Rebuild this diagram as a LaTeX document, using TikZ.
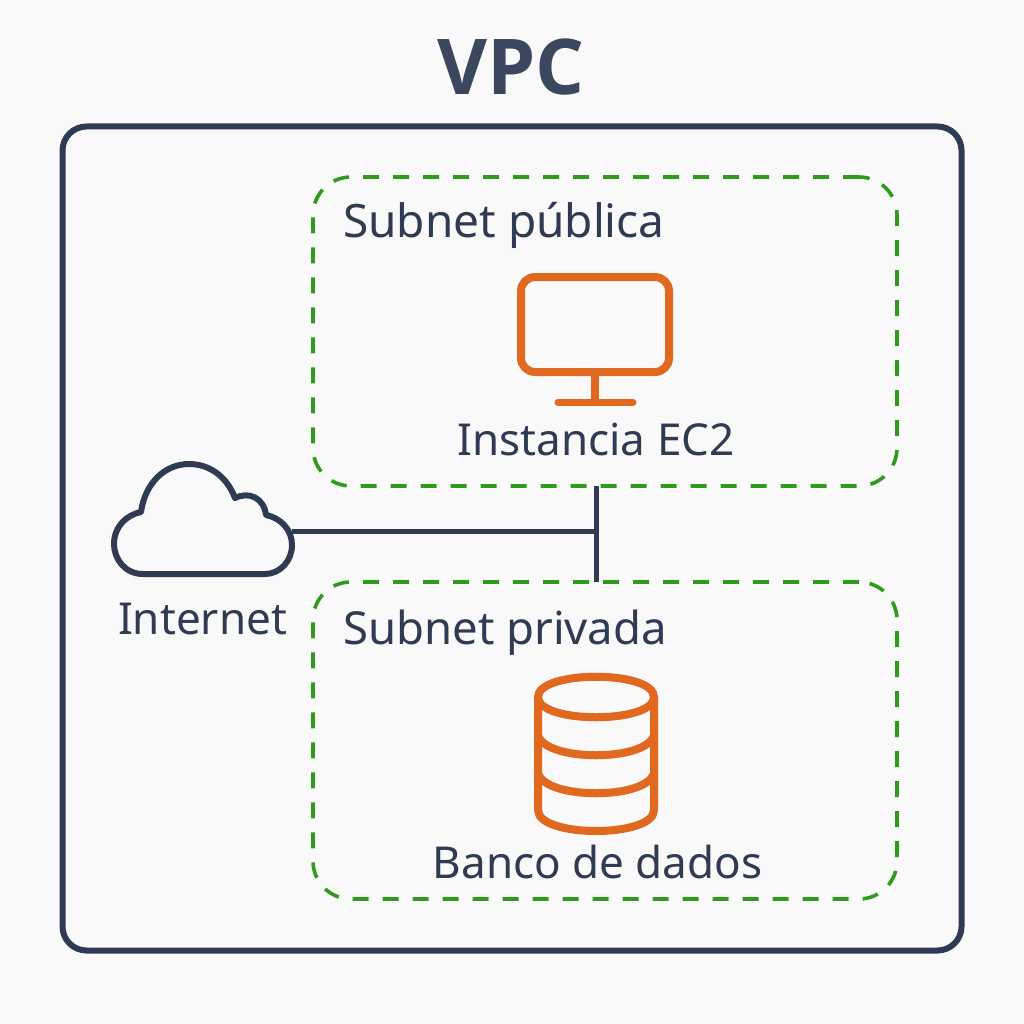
\documentclass[tikz,border=0pt]{standalone}
\usepackage{fontspec}
\setmainfont{Noto Sans}
\newfontfamily\titlefont{Open Sans}[BoldFont={Open Sans Bold}]
\definecolor{navy}{HTML}{2F3B52}
\definecolor{titlec}{HTML}{3A475E}
\definecolor{grn}{HTML}{2F9A1C}
\definecolor{org}{HTML}{E0681F}
\definecolor{bg}{HTML}{F9F9F9}
\tikzset{
  vpcbox/.style={draw=navy,line width=6pt,rounded corners=24pt,minimum width=899pt,minimum height=824pt,inner sep=0pt},
  subnetbox/.style={draw=grn,line width=3.6pt,dash pattern=on 16pt off 14pt,rounded corners=38pt,minimum width=584pt,inner sep=0pt},
  lbl/.style={text=navy,font=\fontsize{46}{50}\selectfont,inner sep=0pt,anchor=base},
  lblb/.style={text=navy,font=\fontsize{44}{50}\selectfont,inner sep=0pt,anchor=base},
  titlelbl/.style={text=titlec,font=\fontsize{77}{84}\titlefont\bfseries\selectfont,inner sep=0pt,anchor=base},
  link/.style={draw=navy,line width=5pt},
  cloudline/.style={draw=navy,line width=6pt,line join=round},
  iconline/.style={draw=org,line width=8pt,line join=round},
}
\begin{document}
\begin{tikzpicture}[x=1pt,y=-1pt]
\useasboundingbox (0,0) rectangle (1024,1024);
\fill[bg] (0,0) rectangle (1024,1024);
\node[titlelbl] (title) at (511,95) {VPC};
\node[vpcbox] (vpc) at (512,538.5) {};
\node[subnetbox,minimum height=309pt] (pub) at (605,331.5) {};
\node[subnetbox,minimum height=317pt] (priv) at (605,740.5) {};
\node[lbl,anchor=base west] (publbl) at (343,237) {Subnet pública};
\node[lbl,anchor=base west,font=\fontsize{45.5}{50}\selectfont] (privlbl) at (343,644) {Subnet privada};
\node[lblb] (eclbl) at (596,455) {Instancia EC2};
\node[lblb] (dblbl) at (597.5,878) {Banco de dados};
\node[lblb] (netlbl) at (202.5,634) {Internet};
% cloud
\draw[cloudline] (143,574) .. controls (125,574) and (114,559) .. (114,544)
  .. controls (114,527) and (126,515) .. (141,512)
  .. controls (145,483) and (165,464) .. (189,464)
  .. controls (210,464) and (227,477) .. (235,498)
  .. controls (249,491) and (264,498) .. (266,515)
  .. controls (281,518) and (292,530) .. (292,545)
  .. controls (292,561) and (280,574) .. (265,574) -- cycle;
\coordinate (cloudE) at (292,531);
\coordinate (junction) at (596,531);
\coordinate (pubB) at (596,486);
\coordinate (privT) at (596,582);
\draw[link] (cloudE) -- (junction);
\draw[link] (pubB) -- (privT);
% monitor
\draw[iconline,rounded corners=14pt] (521,277) rectangle (669,372);
\draw[draw=org,line width=8pt] (595,372) -- (595,402);
\draw[draw=org,line width=7pt,line cap=round] (558,402) -- (633,402);
% database
\draw[iconline] (538,697) .. controls (538,670) and (654,670) .. (654,697)
  .. controls (654,724) and (538,724) .. (538,697) -- cycle;
\draw[iconline] (538,697) -- (538,810) .. controls (538,838) and (654,838) .. (654,810) -- (654,697);
\draw[iconline] (538,735) .. controls (545,762) and (647,762) .. (654,735);
\draw[iconline] (538,773) .. controls (545,800) and (647,800) .. (654,773);
\end{tikzpicture}
\end{document}
